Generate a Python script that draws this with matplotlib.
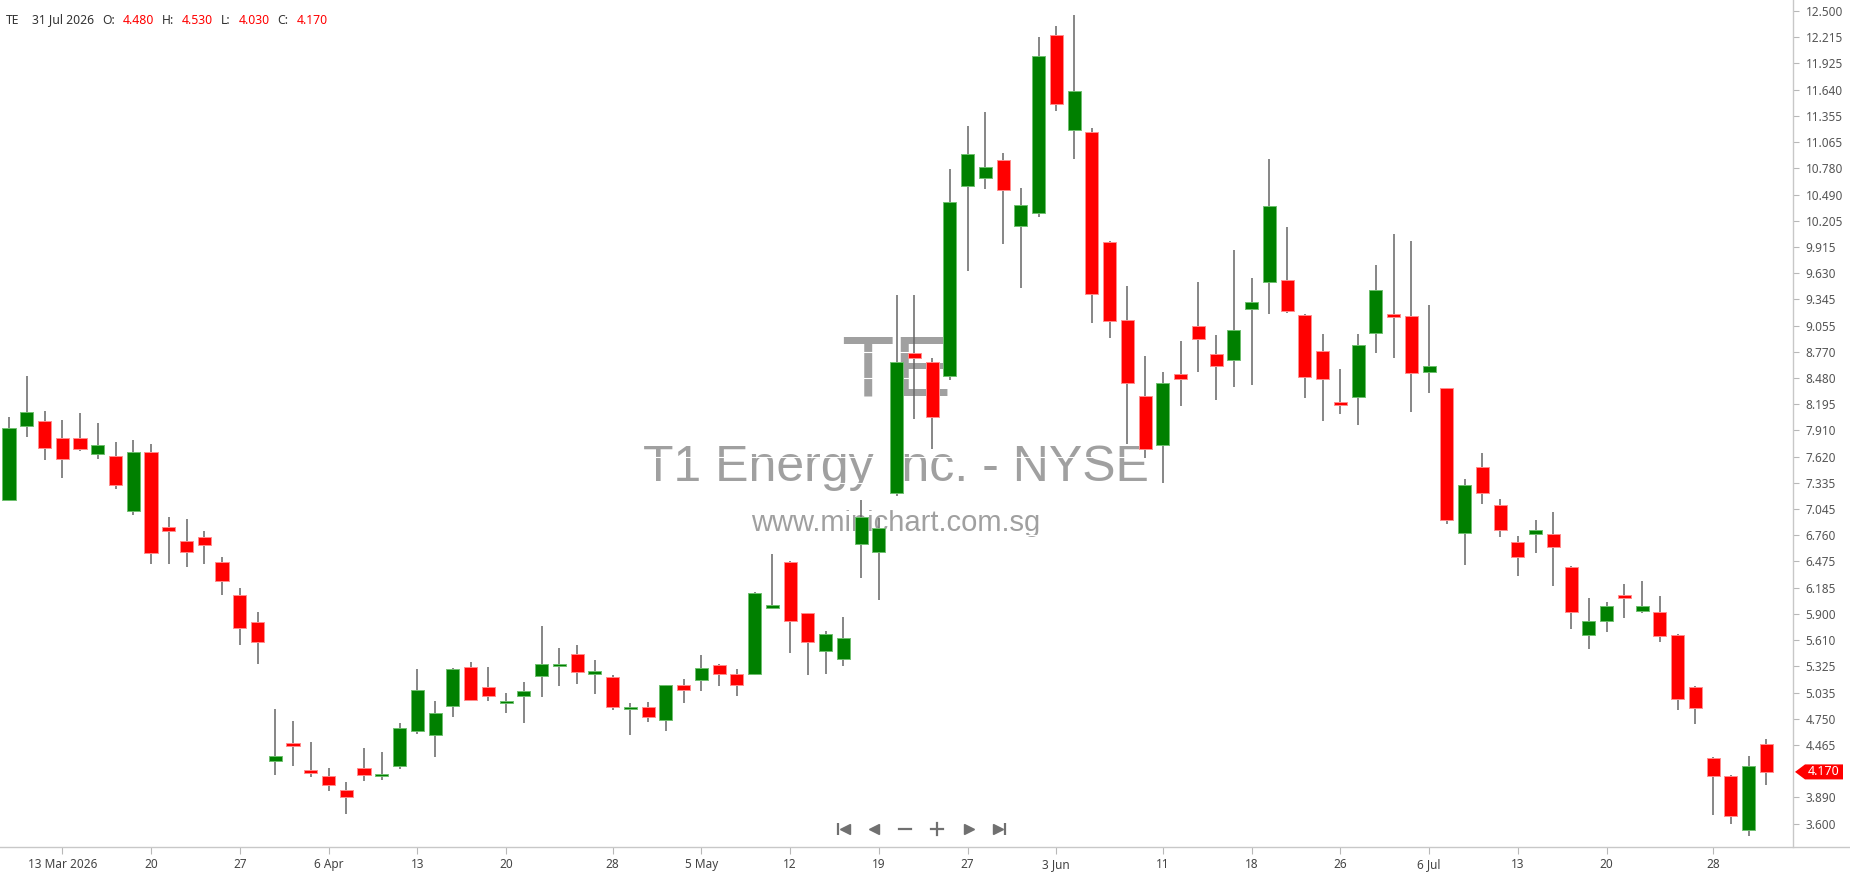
import matplotlib
matplotlib.use("Agg")
import matplotlib.pyplot as plt
from matplotlib.lines import Line2D
from matplotlib.patches import Polygon
from matplotlib.transforms import blended_transform_factory

# ---------------- data ----------------
ticker = "TE"
last_date = "31 Jul 2026"
company = "T1 Energy Inc. - NYSE"
site = "www.minichart.com.sg"

opens = [7.15, 7.955, 8.01, 7.82, 7.82, 7.645, 7.63, 7.03, 7.67, 6.855,
         6.70, 6.74, 6.47, 6.11, 5.81, 4.29, 4.49, 4.196, 4.13, 3.97,
         4.21, 4.12, 4.23, 4.62, 4.575, 4.89, 5.32, 5.10, 4.92, 5.00,
         5.215, 5.33, 5.46, 5.245, 5.21, 4.86, 4.88, 4.74, 5.118, 5.18,
         5.337, 5.245, 5.245, 5.96, 6.47, 5.91, 5.49, 5.41, 6.67, 6.58,
         7.22, 8.76, 8.66, 8.50, 10.58, 10.676, 10.87, 10.145, 10.29, 12.24,
         11.195, 11.17, 9.968, 9.12, 8.29, 7.747, 8.528, 9.053, 8.748, 8.675,
         9.242, 9.535, 9.56, 9.175, 8.778, 8.217, 8.278, 8.974, 9.187, 9.163,
         8.553, 8.37, 6.79, 7.509, 7.088, 6.686, 6.777, 6.771, 6.417, 5.673,
         5.826, 6.112, 5.93, 5.923, 5.673, 5.10, 4.325, 4.13, 3.53, 4.48]
highs = [8.06, 8.50, 8.12, 8.02, 8.10, 7.99, 7.78, 7.80, 7.76, 6.955,
         6.936, 6.81, 6.527, 6.185, 5.92, 4.86, 4.73, 4.50, 4.21, 4.06,
         4.43, 4.39, 4.70, 5.30, 4.95, 5.31, 5.37, 5.32, 5.03, 5.154,
         5.77, 5.53, 5.557, 5.39, 5.23, 4.92, 4.935, 5.12, 5.19, 5.447,
         5.35, 5.295, 6.14, 6.56, 6.48, 5.915, 5.716, 5.868, 7.15, 6.95,
         9.39, 9.395, 8.705, 10.77, 11.24, 11.39, 10.95, 10.566, 12.21, 12.335,
         12.457, 11.22, 9.98, 9.49, 8.724, 8.553, 8.888, 9.529, 8.95, 9.883,
         9.578, 10.877, 10.139, 9.18, 8.967, 8.577, 8.967, 9.724, 10.054, 9.986,
         9.279, 8.376, 7.38, 7.656, 7.155, 6.753, 6.924, 7.015, 6.42, 6.075,
         6.033, 6.23, 6.265, 6.094, 5.68, 5.11, 4.33, 4.14, 4.343, 4.53]
lows = [7.14, 7.84, 7.58, 7.39, 7.68, 7.595, 7.27, 6.985, 6.45, 6.45,
        6.41, 6.45, 6.11, 5.56, 5.355, 4.135, 4.23, 4.11, 3.96, 3.71,
        4.07, 4.08, 4.20, 4.59, 4.33, 4.77, 4.95, 4.95, 4.81, 4.70,
        4.985, 5.105, 5.136, 5.026, 4.85, 4.57, 4.715, 4.62, 4.92, 5.06,
        5.105, 5.00, 5.227, 5.955, 5.47, 5.227, 5.245, 5.33, 6.295, 6.05,
        7.19, 8.03, 7.70, 8.46, 9.65, 10.55, 9.95, 9.47, 10.25, 11.40,
        10.877, 9.083, 8.92, 7.76, 7.607, 7.33, 8.174, 8.547, 8.236, 8.382,
        8.40, 9.18, 9.193, 8.266, 8.01, 8.089, 7.973, 8.76, 8.705, 8.113,
        8.321, 6.887, 6.43, 7.107, 6.74, 6.315, 6.57, 6.20, 5.734, 5.514,
        5.697, 5.85, 5.912, 5.588, 4.843, 4.691, 3.696, 3.598, 3.47, 4.03]
closes = [7.94, 8.11, 7.72, 7.60, 7.70, 7.75, 7.315, 7.67, 6.57, 6.81,
          6.58, 6.65, 6.26, 5.74, 5.59, 4.34, 4.455, 4.16, 4.025, 3.90,
          4.135, 4.146, 4.65, 5.07, 4.82, 5.30, 4.96, 5.00, 4.95, 5.06,
          5.355, 5.355, 5.26, 5.276, 4.88, 4.88, 4.77, 5.118, 5.07, 5.307,
          5.245, 5.124, 6.13, 6.00, 5.825, 5.59, 5.685, 5.636, 6.96, 6.845,
          8.66, 8.70, 8.05, 10.41, 10.93, 10.79, 10.54, 10.377, 12.006, 11.48,
          11.628, 9.407, 9.102, 8.43, 7.705, 8.43, 8.473, 8.906, 8.608, 9.01,
          9.31, 10.365, 9.212, 8.492, 8.473, 8.187, 8.845, 9.45, 9.15, 8.54,
          8.614, 6.924, 7.314, 7.22, 6.814, 6.52, 6.814, 6.637, 5.917, 5.82,
          5.99, 6.075, 5.99, 5.655, 4.971, 4.874, 4.123, 3.684, 4.239, 4.17]

xtick_idx = [3, 8, 13, 18, 23, 28, 34, 39, 44, 49, 54, 59, 65, 70, 75, 80, 85, 90, 96]
xtick_labels = ["13 Mar 2026", "20", "27", "6 Apr", "13", "20", "28", "5 May", "12",
                "19", "27", "3 Jun", "11", "18", "26", "6 Jul", "13", "20", "28"]
ytick_labels = ["3.600", "3.890", "4.465", "4.750", "5.035", "5.325", "5.610", "5.900",
                "6.185", "6.475", "6.760", "7.045", "7.335", "7.620", "7.910", "8.195",
                "8.480", "8.770", "9.055", "9.345", "9.630", "9.915", "10.205", "10.490",
                "10.780", "11.065", "11.355", "11.640", "11.925", "12.215", "12.500"]

# ---------------- figure ----------------
W, H = 1850, 874
fig = plt.figure(figsize=(W / 100, H / 100), dpi=100)
fig.patch.set_facecolor("white")
ax_bottom_px, ax_right_px = 27, 1793
ax = fig.add_axes([0, ax_bottom_px / H, ax_right_px / W, (H - ax_bottom_px) / H])
ax.set_facecolor("white")

n = len(opens)
xs = list(range(n))
up = [c >= o for o, c in zip(opens, closes)]
body_bottom = [min(o, c) for o, c in zip(opens, closes)]
body_height = [max(abs(c - o), 0.012) for o, c in zip(opens, closes)]
face = ["#008000" if u else "#ff0000" for u in up]
edge = ["#6fbf6f" if u else "#ff8c8c" for u in up]

ax.set_xlim(-0.51, 100.5)
ax.set_ylim(3.348, 12.62)

# watermark
wm_color = "#a0a0a0"
ax.text(0.4997, 0.5325, ticker, transform=ax.transAxes, ha="center", va="baseline",
        fontsize=62, color=wm_color, family="Liberation Sans", zorder=0)
ax.text(0.4997, 0.4321, company, transform=ax.transAxes, ha="center", va="baseline",
        fontsize=36, color=wm_color, family="Liberation Sans", zorder=0)
ax.text(0.4997, 0.3731, site, transform=ax.transAxes, ha="center", va="baseline",
        fontsize=21, color=wm_color, family="Liberation Sans", zorder=0)

# white grid over the watermark
yvals = [float(s) for s in ytick_labels]
for yv in yvals:
    ax.axhline(yv, color="white", lw=0.8, zorder=1)

# candles
ax.vlines(xs, lows, highs, color="#666666", lw=1.1, zorder=2)
ax.bar(xs, body_height, bottom=body_bottom, width=0.74, color=face,
       edgecolor=edge, linewidth=0.7, zorder=3)

# axes styling
for s in ("top", "left", "bottom"):
    ax.spines[s].set_visible(False)
ax.spines["right"].set_color("#c8c8c8")
ax.spines["right"].set_linewidth(1.0)

ax.yaxis.tick_right()
ax.set_yticks(yvals)
ax.set_yticklabels(ytick_labels)
ax.tick_params(axis="y", length=4, width=0.8, color="#b8b8b8", pad=5,
               labelsize=8.5, labelcolor="#555555")
for t in ax.get_yticklabels():
    t.set_family("Noto Sans")

ax.set_xticks(xtick_idx)
ax.set_xticklabels(xtick_labels)
ax.tick_params(axis="x", length=5, width=0.8, color="#b8b8b8", pad=3,
               labelsize=8.5, labelcolor="#444444")
for t in ax.get_xticklabels():
    t.set_family("Noto Sans")

# bottom line across full width
fig.add_artist(Line2D([0, 1], [ax_bottom_px / H] * 2, transform=fig.transFigure,
                      color="#c8c8c8", lw=1.0))

# last price tag
last = closes[-1]
tr = blended_transform_factory(fig.transFigure, ax.transData)
hh = 7.5 / ((H - ax_bottom_px) / (12.62 - 3.348))
x_tip, x_l, x_r = 1795 / W, 1805 / W, 1843 / W
tag = Polygon([(x_tip, last), (x_l, last + hh), (x_r, last + hh), (x_r, last - hh), (x_l, last - hh)],
              closed=True, transform=tr, facecolor="#ff0000", edgecolor="none", clip_on=False, zorder=5)
fig.add_artist(tag)
fig.text((1806 + 1842) / 2 / W, last, f"{last:.3f}", transform=tr, ha="center", va="center",
         color="white", fontsize=9, fontweight="bold", family="Noto Sans", zorder=6)

# header
hy = 1 - 23.5 / H
lab_c, val_c = "#333333", "#ff0000"
segments = [(6, ticker, lab_c), (32, last_date, lab_c),
            (102, "O:", lab_c), (123, f"{opens[-1]:.3f}", val_c),
            (162, "H:", lab_c), (182, f"{highs[-1]:.3f}", val_c),
            (221, "L:", lab_c), (239, f"{lows[-1]:.3f}", val_c),
            (277, "C:", lab_c), (297, f"{closes[-1]:.3f}", val_c)]
for px, txt, col in segments:
    fig.text(px / W, hy, txt, ha="left", va="baseline", fontsize=8.8, color=col,
             family="Noto Sans")

# navigation icons
ny = 1 - 829 / H
nav_c = "#707070"
def mk(xpx, marker, ms, **kw):
    fig.add_artist(Line2D([xpx / W], [ny], marker=marker, markersize=ms, color=nav_c,
                          transform=fig.transFigure, linestyle="none", **kw))
mk(838, "|", 9, markeredgewidth=1.6)
mk(845, "<", 7)
mk(874, "<", 7)
fig.add_artist(Line2D([899 / W, 911 / W], [ny, ny], transform=fig.transFigure, color=nav_c, lw=1.6))
fig.add_artist(Line2D([931 / W, 943 / W], [ny, ny], transform=fig.transFigure, color=nav_c, lw=1.6))
fig.add_artist(Line2D([937 / W, 937 / W], [ny - 6 / H, ny + 6 / H], transform=fig.transFigure, color=nav_c, lw=1.6))
mk(969, ">", 7)
mk(998, ">", 7)
mk(1005, "|", 9, markeredgewidth=1.6)

fig.savefig("out.png", dpi=100, facecolor="white")
